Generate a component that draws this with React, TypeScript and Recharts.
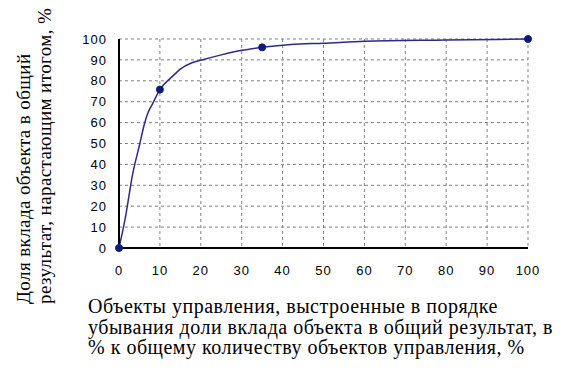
import { ComposedChart, Line, XAxis, YAxis, CartesianGrid } from "recharts";

// curve (smoothed line)
const curveX = [0, 1.6, 3.3, 5.1, 6.1, 6.9, 8.1, 10, 13, 15, 17.7, 20, 25, 30, 35, 42, 50, 60, 80, 100];
const curveY = [0, 15, 35, 50, 58.5, 63.8, 68.6, 75.8, 82, 85.6, 88.5, 89.8, 92.4, 94.6, 96, 97.4, 98, 98.9, 99.5, 100];

// marked points
const markX = [0, 10, 35, 100];
const markY = [0, 75.8, 96, 100];

const xTicks = [0, 10, 20, 30, 40, 50, 60, 70, 80, 90, 100];
const yTicks = [0, 10, 20, 30, 40, 50, 60, 70, 80, 90, 100];

const yTitle = ["Доля вклада объекта в общий", "результат, нарастающим итогом, %"];
const xTitle = [
  "Объекты управления, выстроенные в порядке",
  "убывания доли вклада объекта в общий результат, в",
  "% к общему количеству объектов управления, %",
];

const curve = curveX.map((x, i) => ({ x, y: curveY[i] }));
const marks = markX.map((x, i) => ({ x, y: markY[i] }));

const tickStyle = { fontFamily: "'Liberation Sans', Arial, sans-serif", fontSize: 13, fill: "#000", letterSpacing: 1 };
const titleFont = "'Liberation Serif', 'Times New Roman', serif";

export default function App() {
  return (
    <div style={{ position: "absolute", left: 0, top: 0, width: 561, height: 373, background: "#fff" }}>
      <ComposedChart width={561} height={373} margin={{ top: 39, right: 33, bottom: 95, left: 59 }}>
        <CartesianGrid stroke="#808080" strokeDasharray="3 3" horizontalValues={yTicks} verticalValues={xTicks} />
        <XAxis
          type="number"
          dataKey="x"
          domain={[0, 100]}
          ticks={xTicks}
          interval={0}
          height={30}
          tickLine={false}
          tickSize={0}
          tickMargin={18}
          stroke="#000"
          strokeWidth={2}
          tick={tickStyle}
        />
        <YAxis
          type="number"
          domain={[0, 100]}
          ticks={yTicks}
          interval={0}
          width={60}
          tickLine={false}
          tickSize={0}
          tickMargin={12}
          stroke="#000"
          strokeWidth={2}
          tick={tickStyle}
        />
        <Line
          data={curve}
          dataKey="y"
          type="monotone"
          stroke="#2a2a8e"
          strokeWidth={1.5}
          dot={false}
          isAnimationActive={false}
        />
        <Line
          data={marks}
          dataKey="y"
          stroke="none"
          dot={{ r: 3.5, fill: "#0c1a78", stroke: "#0c1a78" }}
          isAnimationActive={false}
        />
      </ComposedChart>
      <div
        style={{
          fontFamily: titleFont,
          fontSize: 20,
          letterSpacing: 0.5,
          lineHeight: "20.5px",
          color: "#000",
          whiteSpace: "nowrap",
          position: "absolute",
          left: 88,
          top: 296,
        }}
      >
        {xTitle.map((t, i) => (
          <div key={i}>{t}</div>
        ))}
      </div>
      <div
        style={{
          fontFamily: titleFont,
          fontSize: 19,
          letterSpacing: 0.4,
          lineHeight: "21px",
          color: "#000",
          whiteSpace: "nowrap",
          position: "absolute",
          left: 12.5,
          top: 304,
          transform: "rotate(-90deg)",
          transformOrigin: "0 0",
        }}
      >
        {yTitle.map((t, i) => (
          <div key={i}>{t}</div>
        ))}
      </div>
    </div>
  );
}
